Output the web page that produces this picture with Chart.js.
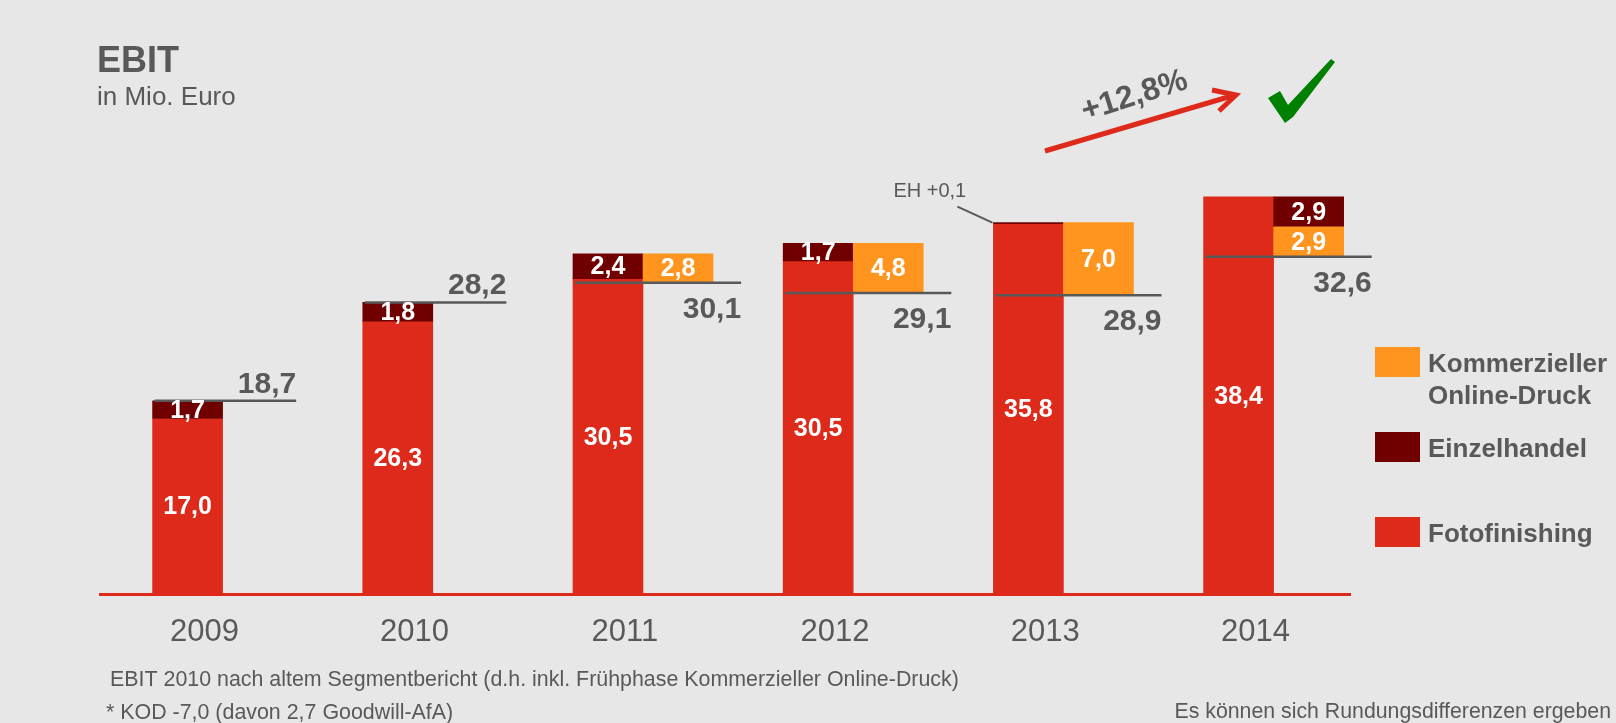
<!DOCTYPE html>
<html lang="de">
<head>
<meta charset="utf-8">
<title>EBIT in Mio. Euro</title>
<script src="https://cdn.jsdelivr.net/npm/chart.js@4.4.1/dist/chart.umd.min.js"></script>
<style>
  html, body { margin: 0; padding: 0; background: #e7e7e7; }
  canvas { display: block; }
</style>
</head>
<body>
<canvas id="ebitChart" width="1616" height="723"></canvas>
<script>
// values in Mio. Euro
var years = ['2009', '2010', '2011', '2012', '2013', '2014'];
var fotofinishing = [17.0, 26.3, 30.5, 30.5, 35.8, 38.4];
var einzelhandel = [1.7, 1.8, 2.4, 1.7, 0.1, -2.9];
var onlineDruck = [0, 0, -2.8, -4.8, -7.0, -2.9];
var ebitTotal = [18.7, 28.2, 30.1, 29.1, 28.9, 32.6];

var RED = '#dd2a1b';
var DARKRED = '#700000';
var ORANGE = '#ff951e';
var GRAY = '#595959';
var FONT = '"Liberation Sans", Arial, Helvetica, sans-serif';

Chart.defaults.font.family = FONT;
Chart.defaults.color = GRAY;

function fmt(v) {
    return Math.abs(v).toFixed(1).replace('.', ',');
}

// each year has a main column (x = 3i) and a side column (x = 3i + 1)
var fotoData = [], ehData = [], kodData = [], totalData = [];
for (var i = 0; i < years.length; i++) {
    var mainX = i * 3, sideX = i * 3 + 1;
    // waterfall: main column height = total minus the other segments
    var redTop = ebitTotal[i] - einzelhandel[i] - onlineDruck[i];
    var peak = redTop + Math.max(einzelhandel[i], 0);
    fotoData.push({x: mainX, y: [0, redTop], v: fotofinishing[i]});
    if (einzelhandel[i] >= 0) {
        ehData.push({x: mainX, y: [redTop, peak], v: einzelhandel[i]});
    } else {
        ehData.push({x: sideX, y: [peak + einzelhandel[i], peak], v: einzelhandel[i]});
    }
    var kodTop = peak + Math.min(einzelhandel[i], 0);
    if (onlineDruck[i] < 0) {
        kodData.push({x: sideX, y: [kodTop + onlineDruck[i], kodTop], v: onlineDruck[i]});
    }
    var lineEnd = onlineDruck[i] < 0 ? 1.9 : 1.55;
    totalData.push({x: mainX - 0.47, y: ebitTotal[i]}, {x: mainX + lineEnd, y: ebitTotal[i]}, {x: mainX + 2, y: null});
}

// white numbers inside the bars, grey totals next to the lines
var valueLabels = {
    id: 'valueLabels',
    afterDatasetsDraw: function(chart) {
        var ctx = chart.ctx;
        var xs = chart.scales.x, ys = chart.scales.y;
        ctx.save();
        ctx.font = 'bold 25px ' + FONT;
        ctx.fillStyle = '#ffffff';
        ctx.textAlign = 'center';
        ctx.textBaseline = 'middle';
        chart.data.datasets.forEach(function(ds, di) {
            if (ds.type === 'line') return;
            chart.getDatasetMeta(di).data.forEach(function(bar, j) {
                var v = ds.data[j].v;
                if (Math.abs(v) < 0.5) return;
                ctx.fillText(fmt(v), bar.x, (bar.y + bar.base) / 2 + 1);
            });
        });

        ctx.font = 'bold 30px ' + FONT;
        ctx.fillStyle = GRAY;
        ctx.textAlign = 'right';
        ctx.textBaseline = 'alphabetic';
        for (var i = 0; i < years.length; i++) {
            var hasSide = onlineDruck[i] < 0;
            var px = xs.getPixelForValue(i * 3 + (hasSide ? 1.9 : 1.55));
            var py = ys.getPixelForValue(ebitTotal[i]);
            ctx.fillText(fmt(ebitTotal[i]), px, hasSide ? py + 35 : py - 8);
        }
        ctx.restore();
    }
};

// title, footnotes, legend, growth arrow and the small EH note
var decorations = {
    id: 'decorations',
    afterDraw: function(chart) {
        var ctx = chart.ctx;
        var area = chart.chartArea;
        ctx.save();
        ctx.fillStyle = GRAY;
        ctx.textAlign = 'left';
        ctx.textBaseline = 'alphabetic';
        ctx.font = 'bold 36px ' + FONT;
        ctx.fillText('EBIT', 97, 72);
        ctx.font = '26px ' + FONT;
        ctx.fillText('in Mio. Euro', 97, 105);

        ctx.font = '21.4px ' + FONT;
        ctx.fillText('EBIT 2010 nach altem Segmentbericht (d.h. inkl. Frühphase Kommerzieller Online-Druck)', 110, 686);
        ctx.fillText('* KOD -7,0 (davon 2,7 Goodwill-AfA)', 106, 719);
        ctx.textAlign = 'right';
        ctx.font = '21.3px ' + FONT;
        ctx.fillText('Es können sich Rundungsdifferenzen ergeben', 1611, 718);

        // legend
        var tops = [347, 432, 517];
        ctx.textAlign = 'left';
        ctx.font = 'bold 26px ' + FONT;
        [1, 2, 3].forEach(function(di, k) {
            var ds = chart.data.datasets[di];
            ctx.fillStyle = ds.backgroundColor;
            ctx.fillRect(area.right + 25, tops[k], 45, 30);
            ctx.fillStyle = GRAY;
            ds.label.split(' ').forEach(function(line, n) {
                ctx.fillText(line, area.right + 78, tops[k] + 24.5 + n * 32);
            });
        });

        // EH note on the small 2013 segment
        var ehMeta = chart.getDatasetMeta(2);
        ehData.forEach(function(d, j) {
            if (Math.abs(d.v) >= 0.5) return;
            var bar = ehMeta.data[j];
            var ax = bar.x - bar.width / 2, ay = bar.y;
            ctx.strokeStyle = GRAY;
            ctx.lineWidth = 2;
            ctx.beginPath();
            ctx.moveTo(ax - 36, ay - 16);
            ctx.lineTo(ax - 1, ay);
            ctx.stroke();
            ctx.font = '20px ' + FONT;
            ctx.fillStyle = GRAY;
            ctx.fillText('EH +' + fmt(d.v), ax - 100, ay - 26);
        });

        // growth arrow
        var n = ebitTotal.length;
        var growth = (ebitTotal[n - 1] / ebitTotal[n - 2] - 1) * 100;
        ctx.strokeStyle = RED;
        ctx.lineWidth = 5;
        ctx.lineJoin = 'miter';
        ctx.beginPath();
        ctx.moveTo(1045, 151);
        ctx.lineTo(1235, 95);
        ctx.stroke();
        ctx.beginPath();
        ctx.moveTo(1212, 90);
        ctx.lineTo(1236, 95);
        ctx.lineTo(1219, 111);
        ctx.stroke();

        ctx.save();
        ctx.translate(1085, 121);
        ctx.rotate(-17.5 * Math.PI / 180);
        ctx.font = 'bold 32px ' + FONT;
        ctx.fillStyle = GRAY;
        ctx.fillText('+' + fmt(growth) + '%', 0, 0);
        ctx.restore();

        // check mark
        ctx.fillStyle = '#008000';
        ctx.beginPath();
        ctx.moveTo(1268, 98);
        ctx.lineTo(1280, 91);
        ctx.lineTo(1288, 105);
        ctx.lineTo(1331, 59);
        ctx.lineTo(1335, 62);
        ctx.lineTo(1293, 117);
        ctx.lineTo(1285, 123);
        ctx.closePath();
        ctx.fill();
        ctx.restore();
    }
};

var ebitChart = new Chart(document.getElementById('ebitChart'), {
    type: 'bar',
    data: {
        datasets: [{
            type: 'line',
            label: 'EBIT gesamt',
            data: totalData,
            borderColor: GRAY,
            borderWidth: 2.5,
            pointRadius: 0,
            spanGaps: false,
            clip: false,
            order: 0
        }, {
            label: 'Kommerzieller Online-Druck',
            data: kodData,
            backgroundColor: ORANGE,
            order: 1
        }, {
            label: 'Einzelhandel',
            data: ehData,
            backgroundColor: DARKRED,
            order: 1
        }, {
            label: 'Fotofinishing',
            data: fotoData,
            backgroundColor: RED,
            order: 1
        }]
    },
    options: {
        responsive: false,
        animation: false,
        layout: {
            padding: {left: 100, right: 266, top: 128.4, bottom: 0}
        },
        datasets: {
            bar: {grouped: false, barThickness: 70, borderWidth: 0}
        },
        scales: {
            x: {
                type: 'linear',
                min: -1.25,
                max: 16.59,
                offset: false,
                grid: {display: false, drawTicks: false},
                border: {display: true, color: RED, width: 3},
                afterBuildTicks: function(scale) {
                    scale.ticks = years.map(function(y, i) { return {value: i * 3 + 0.24}; });
                },
                afterFit: function(scale) {
                    scale.height = 128.4;
                },
                ticks: {
                    autoSkip: false,
                    maxRotation: 0,
                    padding: 19,
                    color: GRAY,
                    font: {size: 31},
                    callback: function(value, index) {
                        return years[index];
                    }
                }
            },
            y: {display: false, min: 0, max: 45}
        },
        plugins: {
            legend: {display: false},
            tooltip: {enabled: false}
        }
    },
    plugins: [valueLabels, decorations]
});
</script>
</body>
</html>
